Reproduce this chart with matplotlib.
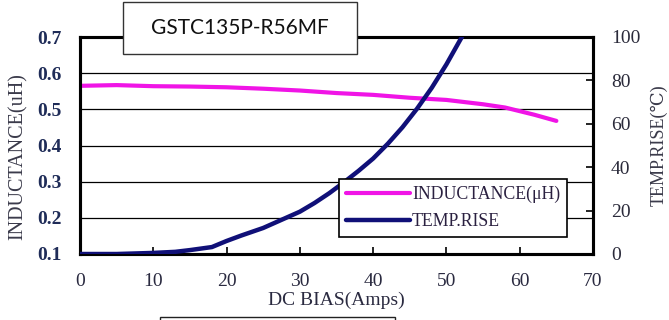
import matplotlib
matplotlib.use("Agg")
import matplotlib.pyplot as plt
from matplotlib.patches import Rectangle

# ---- data ----
ind_x = [0, 5, 10, 15, 20, 25, 30, 35, 40, 45, 50, 55, 58, 62, 65]
ind_y = [0.565, 0.567, 0.564, 0.563, 0.561, 0.557, 0.552, 0.545, 0.54, 0.532, 0.526, 0.514, 0.505, 0.485, 0.468]

temp_x = [0, 5, 10, 13, 15, 18, 20, 22, 25, 28, 30, 32, 34, 36, 38, 40, 42, 44, 46, 48, 50, 52, 53]
temp_y = [0, 0, 0.5, 1, 1.8, 3.2, 6, 8.5, 12, 16.5, 19.5, 23.5, 28, 33, 38.3, 44, 50.8, 58.4, 67, 76.6, 87.4, 99.4, 106]

x_ticks = [0, 10, 20, 30, 40, 50, 60, 70]
left_ticks = [0.1, 0.2, 0.3, 0.4, 0.5, 0.6, 0.7]
right_ticks = [0, 20, 40, 60, 80, 100]
title = "GSTC135P-R56MF"
ind_label = "INDUCTANCE(μH)"
temp_label = "TEMP.RISE"

serif = ["Liberation Serif", "DejaVu Serif"]
plt.rcParams["font.family"] = serif

fig = plt.figure(figsize=(6.69, 3.2), dpi=100)
ax = fig.add_axes([80 / 669, 66 / 320, 513 / 669, 217 / 320])
ax2 = ax.twinx()

ax.set_xlim(0, 70)
ax.set_ylim(0.1, 0.7)
ax2.set_ylim(0, 100)

l1, = ax.plot(ind_x, ind_y, color="#f014e6", lw=3.0, solid_capstyle="round", zorder=3)
l2, = ax2.plot(temp_x, temp_y, color="#101078", lw=3.2, solid_capstyle="round", zorder=3)

ax.set_yticks(left_ticks)
ax.set_yticklabels([f"{v:.1f}" for v in left_ticks], fontsize=14, color="#1f2c58", fontweight="bold")
ax.set_xticks(x_ticks)
ax.set_xticklabels([str(v) for v in x_ticks], fontsize=14, color="#2a2a40")
ax2.set_yticks(right_ticks)
ax2.set_yticklabels([str(v) for v in right_ticks], fontsize=14, color="#2a2a3a")

ax.tick_params(axis="x", direction="in", length=5, width=1.2, pad=14)
ax.tick_params(axis="y", direction="in", length=0, pad=13)
ax2.tick_params(axis="y", direction="in", length=5, width=1.2, pad=13)

for t in ax.get_xticklines()[:2] + ax.get_xticklines()[-2:]:
    t.set_visible(False)
for t in ax2.get_yticklines()[:2] + ax2.get_yticklines()[-2:]:
    t.set_visible(False)

ax.grid(axis="y", color="black", lw=0.9)
ax.set_axisbelow(True)

for a in (ax, ax2):
    for s in a.spines.values():
        s.set_linewidth(2.2)
        s.set_color("black")

ax.set_xlabel("DC BIAS(Amps)", fontsize=14, color="#2a2a40", labelpad=1)
ax.set_ylabel("INDUCTANCE(uH)", fontsize=14.5, color="#3a3a4a", labelpad=7)
ax.yaxis.label.set_y(0.447)
ax2.set_ylabel("TEMP.RISE(℃)", fontsize=13, color="#3a3a4a", labelpad=7)

leg = ax2.legend([l1, l2], [ind_label, temp_label], loc="upper left",
                 bbox_to_anchor=((339 - 80) / 513, (254 - 179) / 217),
                 fontsize=12.8, frameon=True, fancybox=False, framealpha=1,
                 edgecolor="black", handlelength=3.6, handletextpad=0.1,
                 borderpad=0.4, labelspacing=0.55, borderaxespad=0)
leg.get_frame().set_linewidth(1.2)
for t in leg.get_texts():
    t.set_color("#2a2040")

# title box
fig.patches.append(Rectangle((123 / 669, 1 - 54 / 320), 234 / 669, 52 / 320,
                             transform=fig.transFigure, facecolor="white",
                             edgecolor="#333333", lw=1.0, zorder=10))
fig.text(240 / 669, 1 - 28 / 320, title, ha="center", va="center",
         fontsize=15, family="Lato", color="#111111", zorder=11)

# bottom box (cut off)
fig.patches.append(Rectangle((160 / 669, -0.1), 235 / 669, 0.1 + 3 / 320,
                             transform=fig.transFigure, facecolor="white",
                             edgecolor="#222222", lw=1.0, zorder=10))

fig.savefig("out.png", dpi=100)
